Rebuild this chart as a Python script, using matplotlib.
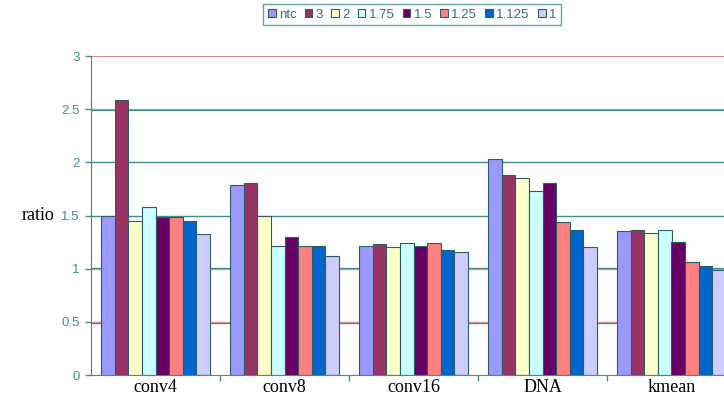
import numpy as np
import matplotlib.pyplot as plt
from matplotlib.patches import Patch

benchmarks = ['conv4', 'conv8', 'conv16', 'DNA', 'kmean']
series = ['ntc', '3', '2', '1.75', '1.5', '1.25', '1.125', '1']

ntc = [1.50, 1.79, 1.21, 2.03, 1.35]
r3 = [2.59, 1.81, 1.235, 1.88, 1.36]
r2 = [1.45, 1.50, 1.20, 1.85, 1.34]
r175 = [1.58, 1.21, 1.24, 1.73, 1.36]
r15 = [1.49, 1.30, 1.21, 1.81, 1.25]
r125 = [1.49, 1.21, 1.245, 1.44, 1.06]
r1125 = [1.45, 1.21, 1.18, 1.36, 1.025]
r1 = [1.33, 1.12, 1.16, 1.20, 0.99]

values = [ntc, r3, r2, r175, r15, r125, r1125, r1]
colors = ['#9999ff', '#993366', '#ffffcc', '#ccffff',
          '#660066', '#ff8080', '#0066cc', '#ccccff']

teal = '#3f8f8f'
pink = '#f08a8a'

fig = plt.figure(figsize=(7.24, 4.01), dpi=100)
# axes runs a little past the right edge of the figure
ax = fig.add_axes([91 / 724, 26 / 401, 645 / 724, 319 / 401])

# gridlines with the two-tone fringe
for k, g in enumerate(np.arange(0.5, 3.01, 0.5)):
    off = 0.007 if k % 2 else -0.007
    ax.axhline(g, color=pink, lw=0.9, zorder=0)
    ax.axhline(g + off, color=teal, lw=0.9, zorder=0)

x = np.arange(len(benchmarks))
w = 1 / (len(series) + 1.5)
for j, (name, vals, c) in enumerate(zip(series, values, colors)):
    ax.bar(x + (j - 3.5) * w, vals, width=w, color=c, edgecolor='#2b5f5f',
           linewidth=0.8, label=name, zorder=2)

ax.set_xlim(-0.5, 4.5)
ax.set_ylim(0, 3)
ax.set_yticks(np.arange(0, 3.01, 0.5))
ax.set_yticklabels(['0', '0.5', '1', '1.5', '2', '2.5', '3'],
                   family='Liberation Sans', fontsize=9.5, color=teal)
ax.tick_params(axis='y', length=4, width=1, color=teal, pad=4)

ax.set_xticks(x)
ax.set_xticklabels(benchmarks, family='Liberation Serif', fontsize=13)
ax.set_xticks(x[:-1] + 0.5, minor=True)
ax.tick_params(axis='x', which='major', length=0, pad=3)
ax.tick_params(axis='x', which='minor', length=4, width=1, color=teal)

for s in ['top', 'right']:
    ax.spines[s].set_visible(False)
ax.spines['left'].set_color('#c05050')
ax.spines['bottom'].set_color(teal)

fig.text(38 / 724, 1 - 216 / 401, 'ratio', family='Liberation Serif',
         fontsize=13, ha='center', va='center')

handles = [Patch(facecolor=c, edgecolor='#2b5f5f', lw=0.8) for c in colors]
leg = fig.legend(handles, series, loc='center', ncol=8,
                 bbox_to_anchor=(412 / 724, 1 - 14.5 / 401),
                 prop={'family': 'Liberation Sans', 'size': 9.5},
                 handlelength=0.6, handleheight=0.6, handletextpad=0.25,
                 columnspacing=0.6, borderpad=0.35, frameon=True, fancybox=False)
leg.get_frame().set_edgecolor(teal)
leg.get_frame().set_linewidth(1.0)
for t in leg.get_texts():
    t.set_color('#2f6f7f')

fig.savefig('out.png', dpi=100)
